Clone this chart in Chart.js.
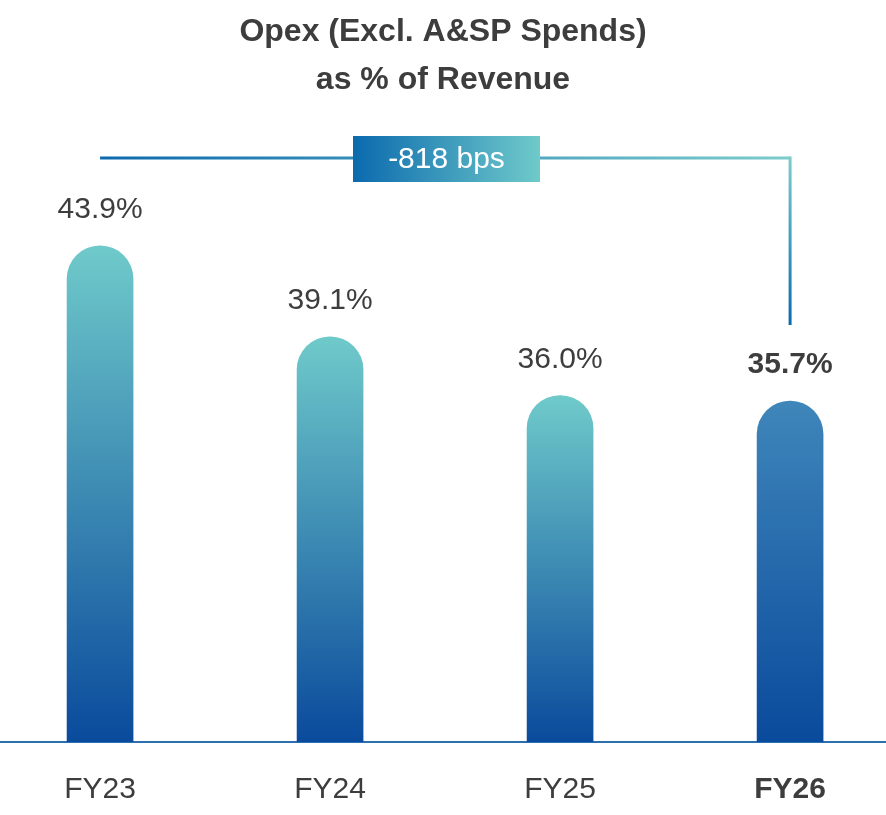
<!DOCTYPE html>
<html>
<head>
<meta charset="utf-8">
<script src="https://cdn.jsdelivr.net/npm/chart.js@4"></script>
<style>
  html, body { margin: 0; padding: 0; background: #fff; }
  #wrap { width: 886px; height: 815px; }
</style>
</head>
<body>
<div id="wrap"><canvas id="opexChart"></canvas></div>
<script>
const categories = ['FY23', 'FY24', 'FY25', 'FY26'];
const opexPct = [43.9, 39.1, 36.0, 35.7];
const changeLabel = '-818 bps';
const titleLines = ['Opex (Excl. A&SP Spends)', 'as % of Revenue'];

const FONT = "'Liberation Sans', Arial, sans-serif";
const TEXT = '#3d3d3d';

// each bar gets its own gradient, from its top down to the baseline
function barColor(c) {
    const chart = c.chart;
    const area = chart.chartArea;
    if (!area || !c.parsed) return '#3f86ba';
    const top = chart.scales.y.getPixelForValue(c.parsed.y);
    const g = chart.ctx.createLinearGradient(0, top, 0, area.bottom);
    if (c.dataIndex === categories.length - 1) {
        g.addColorStop(0, '#3f86ba');
        g.addColorStop(1, '#0a4a9c');
    } else {
        g.addColorStop(0, '#6fcaca');
        g.addColorStop(1, '#0a4a9c');
    }
    return g;
}

// title, value labels and the -818 bps bracket
const overlay = {
    id: 'overlay',
    afterDatasetsDraw(chart) {
        const ctx = chart.ctx;
        const bars = chart.getDatasetMeta(0).data;
        ctx.save();
        ctx.textAlign = 'center';
        ctx.textBaseline = 'middle';
        ctx.fillStyle = TEXT;
        ctx.font = 'bold 32px ' + FONT;
        ctx.fillText(titleLines[0], 443, 32);
        ctx.fillText(titleLines[1], 443, 80);

        bars.forEach((b, i) => {
            ctx.font = (i === bars.length - 1 ? 'bold ' : '') + '30px ' + FONT;
            ctx.fillText(opexPct[i].toFixed(1) + '%', b.x, b.y - 36);
        });

        // bracket
        const x0 = bars[0].x, x1 = bars[bars.length - 1].x;
        const yTop = 158, yEnd = 325;
        const lg = ctx.createLinearGradient(x0, 0, x1, 0);
        lg.addColorStop(0, '#0b6aae');
        lg.addColorStop(1, '#7ccccc');
        ctx.strokeStyle = lg;
        ctx.lineWidth = 3;
        ctx.beginPath();
        ctx.moveTo(x0, yTop);
        ctx.lineTo(x1, yTop);
        ctx.stroke();
        const vg = ctx.createLinearGradient(0, yTop, 0, yEnd);
        vg.addColorStop(0, '#7ccccc');
        vg.addColorStop(1, '#0b6aae');
        ctx.strokeStyle = vg;
        ctx.beginPath();
        ctx.moveTo(x1, yTop - 1.5);
        ctx.lineTo(x1, yEnd);
        ctx.stroke();

        const bx = 353, bw = 187, by = 136, bh = 46;
        const bg = ctx.createLinearGradient(bx, 0, bx + bw, 0);
        bg.addColorStop(0, '#0b6aae');
        bg.addColorStop(1, '#6fcaca');
        ctx.fillStyle = bg;
        ctx.fillRect(bx, by, bw, bh);
        ctx.fillStyle = '#fff';
        ctx.font = '30px ' + FONT;
        ctx.fillText(changeLabel, bx + bw / 2, by + bh / 2 + 1);
        ctx.restore();
    }
};

const ctx = document.getElementById('opexChart').getContext('2d');
new Chart(ctx, {
    type: 'bar',
    data: {
        datasets: [{
            data: opexPct.map((v, i) => ({ x: i, y: v })),
            backgroundColor: barColor,
            barThickness: 66,
            borderRadius: { topLeft: 33, topRight: 33, bottomLeft: 22, bottomRight: 22 },
            borderSkipped: false
        }]
    },
    options: {
        responsive: true,
        maintainAspectRatio: false,
        animation: false,
        layout: { padding: { top: 120, left: 0, right: 0, bottom: 0 } },
        plugins: { legend: { display: false }, tooltip: { enabled: false } },
        scales: {
            x: {
                type: 'linear',
                offset: false,
                min: -0.435,
                max: 3.417,
                grid: { display: false },
                border: { display: true, color: '#2a6fb0', width: 2 },
                afterBuildTicks: s => { s.ticks = categories.map((_, i) => ({ value: i })); },
                afterFit: s => { s.height = 73; },
                ticks: {
                    padding: 22,
                    color: TEXT,
                    font: c => ({ family: FONT, size: 30, weight: c.index === categories.length - 1 ? 'bold' : 'normal' }),
                    callback: v => categories[v]
                }
            },
            y: {
                display: false,
                min: 17.7,
                max: 50.55
            }
        }
    },
    plugins: [overlay]
});
</script>
</body>
</html>
